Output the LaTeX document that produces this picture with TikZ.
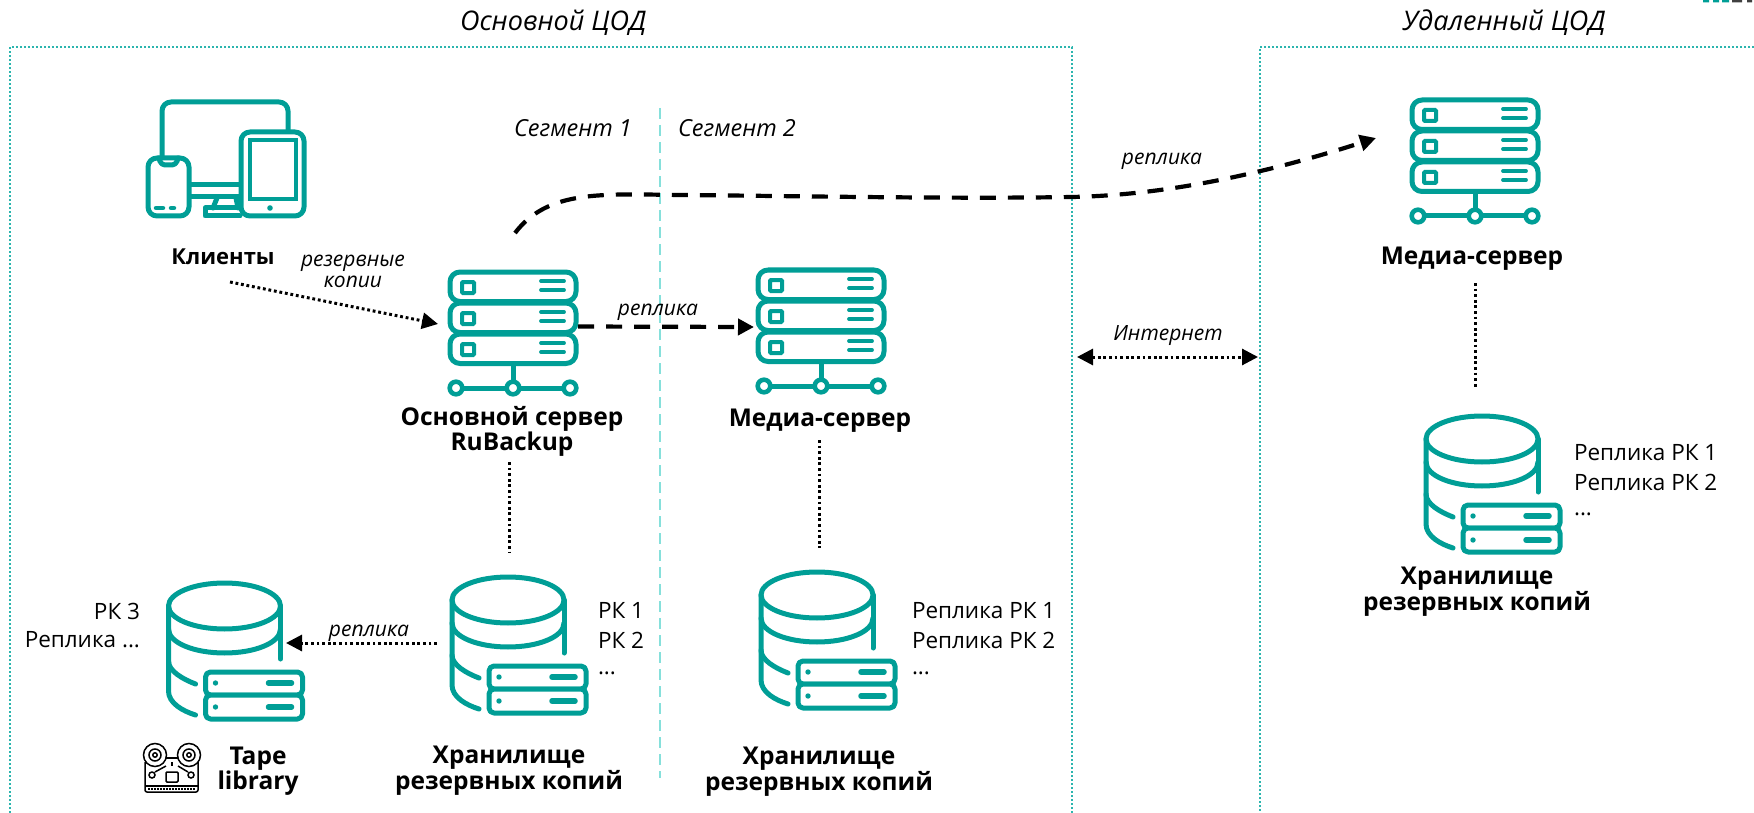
\documentclass[tikz,border=0pt]{standalone}
\usepackage{fontspec}
\setmainfont{Open Sans}
\usetikzlibrary{arrows.meta}
\definecolor{tealc}{HTML}{009E96}
\definecolor{framec}{HTML}{2BB5AE}
\definecolor{segc}{HTML}{86E0DB}
\tikzset{
  x=1pt,y=-1pt,
  every node/.style={inner sep=0pt,outer sep=0pt,text=black},
  iconline/.style={draw=tealc,line width=5pt,line cap=round,line join=round},
  frameline/.style={draw=framec,line width=1.1pt,dash pattern=on 2pt off 2pt},
  segline/.style={draw=segc,line width=1.8pt,dash pattern=on 11pt off 6pt},
  dashconn/.style={draw=black,line width=4.2pt,dash pattern=on 16pt off 12pt,-{Triangle[length=16pt,width=16pt]}},
  dotconn/.style={draw=black,line width=3pt,dash pattern=on 2.8pt off 2.8pt,-{Triangle[length=16pt,width=16pt]}},
  dotboth/.style={draw=black,line width=3pt,dash pattern=on 2.8pt off 2.8pt,{Triangle[length=16pt,width=16pt]}-{Triangle[length=16pt,width=16pt]}},
  dotline/.style={draw=black,line width=3pt,dash pattern=on 2.8pt off 2.8pt},
  lab/.style={font=\fontsize{24.5}{25}\selectfont\bfseries,align=center},
  ital/.style={font=\fontsize{23.5}{23}\selectfont\itshape,align=center},
  ismall/.style={font=\fontsize{21}{21}\selectfont\itshape,align=center},
  head/.style={font=\fontsize{27}{28}\selectfont\itshape},
  listl/.style={font=\fontsize{22.5}{24}\selectfont,anchor=west},
  listr/.style={font=\fontsize{22.5}{24}\selectfont,anchor=east},
  serverpic/.pic={
    \foreach \r in {0,31,62}{
      \draw[iconline,rounded corners=10pt] (-63,2+\r) rectangle (63,31+\r+0.5);
      \draw[draw=tealc,line width=4pt,rounded corners=1pt] (-51,12+\r) rectangle (-39,23+\r);
      \draw[draw=tealc,line width=3.8pt,line cap=round] (28,11+\r) -- (51,11+\r);
      \draw[draw=tealc,line width=3.8pt,line cap=round] (28,20+\r) -- (51,20+\r);
    }
    \draw[draw=tealc,line width=5pt] (0,94) -- (0,118);
    \draw[draw=tealc,line width=5pt] (-57,118) -- (57,118);
    \foreach \c in {-57,0,57}{
      \draw[draw=tealc,line width=4.6pt,fill=white] (\c,118) circle[radius=6.3pt];
    }
  },
  storepic/.pic={
    \draw[iconline] (0,25) ellipse[x radius=56pt,y radius=23pt];
    \draw[iconline] (-56,25) -- (-56,110) .. controls (-56,122) and (-42,130) .. (-29,134);
    \draw[iconline] (-56,48) .. controls (-56,62) and (-30,72) .. (0,72) .. controls (30,72) and (56,62) .. (56,48);
    \draw[iconline] (56,25) -- (56,78);
    \draw[iconline] (-56,80) .. controls (-56,90) and (-42,98) .. (-29,103);
    \draw[iconline,rounded corners=5pt,fill=white] (-19,91) rectangle (78,114);
    \draw[iconline,rounded corners=5pt,fill=white] (-19,114) rectangle (78,138);
    \fill[tealc] (-9,102) circle[radius=2.7pt] (-9,126) circle[radius=2.7pt];
    \draw[draw=tealc,line width=5.5pt,line cap=round] (44,102) -- (67,102);
    \draw[draw=tealc,line width=5.5pt,line cap=round] (44,126) -- (67,126);
  }
}
\begin{document}
\begin{tikzpicture}
\useasboundingbox (0,0) rectangle (1754,813);
% frames
\draw[frameline] (10,813) -- (10,47) -- (1072,47) -- (1072,813);
\draw[frameline] (1754,47) -- (1260,47) -- (1260,813);
\coordinate (segtop) at (660,108);
\coordinate (segbot) at (660,778);
\draw[segline] (segtop) -- (segbot);
% logo fragment
\fill[tealc] (1703,0) rectangle (1709,2.5) (1713,0) rectangle (1719,2.5) (1722,0) rectangle (1729,2.5);
\fill[black!75] (1732,0) rectangle (1742,2.5) (1747,0) rectangle (1752,2.5);
% clients icon
\draw[iconline,rounded corners=9pt] (162,158) -- (162,102) -- (288,102) -- (288,132);
\draw[iconline] (190,185) -- (240,185);
\draw[iconline] (190,197) -- (240,197);
\draw[iconline] (217,198) -- (213,208);
\draw[iconline] (236,198) -- (238,208);
\draw[iconline] (240,208) -- (205,208) -- (205,216) -- (240,216);
\draw[iconline,rounded corners=9pt,fill=white] (148,158) rectangle (189,216);
\draw[iconline,rounded corners=4pt] (159,158) -- (161,165) -- (176,165) -- (178,158);
\draw[draw=tealc,line width=4.5pt,line cap=round] (156,208) -- (163,208);
\draw[draw=tealc,line width=4.5pt,line cap=round] (171,208) -- (174,208);
\draw[iconline,rounded corners=9pt,fill=white] (241,132) rectangle (304,216);
\draw[draw=tealc,line width=4.5pt,fill=white] (250,140) rectangle (296,199);
\fill[tealc] (270,208) circle[radius=2.8pt];
% server icons
\pic at (513,270) {serverpic};
\pic at (821,268) {serverpic};
\pic at (1475,98) {serverpic};
% storage icons
\pic at (508,575) {storepic};
\pic at (224.5,581) {storepic};
\pic at (817,570) {storepic};
\pic at (1482,414) {storepic};
% tape icon
\begin{scope}[line width=1.5pt,draw=black]
\draw (155,755) circle[radius=11.5pt] (155,755) circle[radius=6pt] (155,755) circle[radius=2.2pt];
\draw (189,755) circle[radius=11.5pt] (189,755) circle[radius=6pt] (189,755) circle[radius=2.2pt];
\draw[rounded corners=2pt] (145,762) -- (145,792) -- (198,792) -- (198,762);
\draw (166,758) -- (178,758) (172,762) -- (172,766);
\draw (145,786) -- (198,786);
\draw[dash pattern=on 1.5pt off 1.5pt] (148,789) -- (196,789);
\draw[rounded corners=1pt] (166,782) -- (166,772) -- (178,772) -- (178,782) -- cycle;
\draw (152,775) circle[radius=3pt] (191,775) circle[radius=3pt];
\draw (155,772) -- (166,766) (188,772) -- (178,766);
\end{scope}
% anchors for connectors
\coordinate (clientout) at (230,282);
\coordinate (mainin) at (438,324);
\coordinate (mainout) at (578,326.5);
\coordinate (mediain) at (754,327);
\coordinate (mainup) at (515,233);
\coordinate (far) at (1072,197);
\coordinate (remotein) at (1376,138);
\coordinate (maindown) at (509,462);
\coordinate (storetop) at (509,552);
\coordinate (mediadown) at (819,440);
\coordinate (store2top) at (819,548);
\coordinate (remotedown) at (1475,283);
\coordinate (store3top) at (1475,388);
\coordinate (storeleft) at (437,643);
\coordinate (tapein) at (286,643);
\coordinate (netl) at (1077,357);
\coordinate (netr) at (1258,357);
% connectors
\draw[dashconn] (mainup) .. controls (548,190) and (600,194) .. (680,195) .. controls (800,196) and (950,199) .. (far) .. controls (1170,195) and (1270,172) .. (remotein);
\draw[dotconn] (clientout) -- (mainin);
\draw[dashconn] (mainout) -- (mediain);
\draw[dotline] (maindown) -- (storetop);
\draw[dotline] (mediadown) -- (store2top);
\draw[dotline] (remotedown) -- (store3top);
\draw[dotconn] (storeleft) -- (tapein);
\draw[dotboth] (netl) -- (netr);
% text
\node[head] (h1) at (553,23) {Основной ЦОД};
\node[head] (h2) at (1504,23) {Удаленный ЦОД};
\node[ital] (s1) at (573,128) {Сегмент 1};
\node[ital] (s2) at (737,128) {Сегмент 2};
\node[ismall] (r1) at (1162,161) {реплика};
\node[lab,font=\fontsize{22}{25}\selectfont\bfseries] (kl) at (223,257) {Клиенты};
\node[ismall] (rk) at (353,271) {резервные\\копии};
\node[ismall] (r2) at (658,312) {реплика};
\node[lab] (m1) at (512,431) {Основной сервер\\RuBackup};
\node[lab] (m2) at (820,421) {Медиа-сервер};
\node[ismall] (net) at (1168,336) {Интернет};
\node[lab] (m3) at (1472,259) {Медиа-сервер};
\node[listl] (a1) at (1574,453) {Реплика РК 1};
\node[listl] (a2) at (1574,482) {Реплика РК 2};
\node[listl] (a3) at (1574,514) {...};
\node[lab] (x3) at (1477,592) {Хранилище\\резервных копий};
\node[listl] (b1) at (598,610) {РК 1};
\node[listl] (b2) at (598,640) {РК 2};
\node[listl] (b3) at (598,673) {...};
\node[lab] (x1) at (509,771) {Хранилище\\резервных копий};
\node[listl] (c1) at (912,611) {Реплика РК 1};
\node[listl] (c2) at (912,640) {Реплика РК 2};
\node[listl] (c3) at (912,673) {...};
\node[lab] (x2) at (819,772) {Хранилище\\резервных копий};
\node[listr] (d1) at (140,611) {РК 3};
\node[listr] (d2) at (140,640) {Реплика ...};
\node[lab] (t1) at (258,771) {Tape\\library};
\node[ismall] (r3) at (369,633) {реплика};
\end{tikzpicture}
\end{document}
